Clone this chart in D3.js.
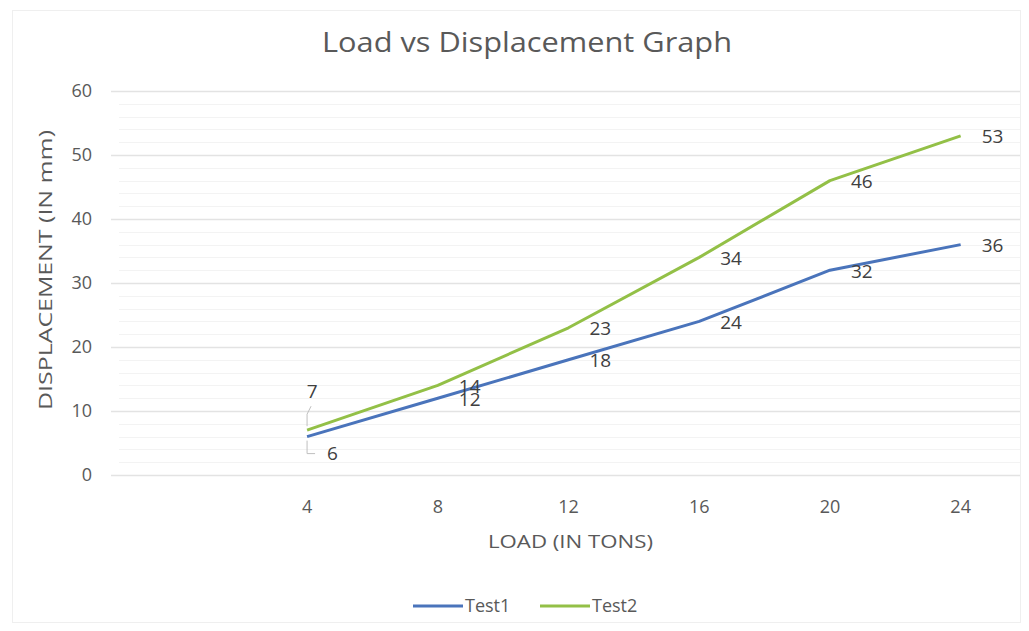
<!DOCTYPE html>
<html>
<head>
<meta charset="utf-8">
<script src="https://cdn.jsdelivr.net/npm/d3@7"></script>
<style>
  body { margin: 0; background: #fff; }
  svg { display: block; font-family: "Open Sans", "Noto Sans", sans-serif; }
</style>
</head>
<body>
<div id="chart"></div>
<script>
// chart data
var loads = ["", "4", "8", "12", "16", "20", "24"];   // first category is empty in the original
var test1 = [null, 6, 12, 18, 24, 32, 36];
var test2 = [null, 7, 14, 23, 34, 46, 53];
var yTicks = [0, 10, 20, 30, 40, 50, 60];

var seriesNames = ["Test1", "Test2"];
var seriesColors = ["#4a74bb", "#93c047"];

var width = 1029, height = 631;
var plot = {left: 111, right: 1026, top: 91, bottom: 475};

var svg = d3.select("#chart").append("svg")
  .attr("width", width)
  .attr("height", height);

// faint outer border of the chart area
svg.append("rect")
  .attr("x", 12.5).attr("y", 10.5)
  .attr("width", 1008).attr("height", 612)
  .attr("fill", "none")
  .attr("stroke", "#efefef");

var x = d3.scaleBand()
  .domain(loads)
  .range([plot.left, plot.right]);

var y = d3.scaleLinear()
  .domain([0, 60])
  .range([plot.bottom, plot.top]);

// minor gridlines every 2
svg.append("g")
  .selectAll("line")
  .data(d3.range(0, 61, 2).filter(function(v) { return v % 10 !== 0; }))
  .enter().append("line")
  .attr("x1", plot.left + 8).attr("x2", plot.right - 6)
  .attr("y1", function(d) { return Math.round(y(d)) + 0.5; })
  .attr("y2", function(d) { return Math.round(y(d)) + 0.5; })
  .attr("stroke", "#f3f3f3");

// major gridlines every 10
svg.append("g")
  .selectAll("line")
  .data(yTicks)
  .enter().append("line")
  .attr("x1", plot.left).attr("x2", plot.right - 6)
  .attr("y1", function(d) { return Math.round(y(d)) + 0.5; })
  .attr("y2", function(d) { return Math.round(y(d)) + 0.5; })
  .attr("stroke", "#e3e3e3")
  .attr("stroke-width", 1.5);

// y tick labels
svg.append("g")
  .selectAll("text")
  .data(yTicks)
  .enter().append("text")
  .attr("x", 92)
  .attr("y", function(d) { return y(d); })
  .attr("dy", "0.35em")
  .attr("text-anchor", "end")
  .attr("font-size", 18)
  .attr("fill", "#595959")
  .text(function(d) { return d; });

// x tick labels
svg.append("g")
  .selectAll("text")
  .data(loads)
  .enter().append("text")
  .attr("x", function(d) { return x(d) + x.bandwidth() / 2; })
  .attr("y", 507)
  .attr("dy", "0.35em")
  .attr("text-anchor", "middle")
  .attr("font-size", 18)
  .attr("fill", "#595959")
  .text(function(d) { return d; });

// titles
svg.append("text")
  .attr("x", 527).attr("y", 42)
  .attr("dy", "0.35em")
  .attr("text-anchor", "middle")
  .attr("font-size", 28)
  .attr("textLength", 410)
  .attr("lengthAdjust", "spacingAndGlyphs")
  .attr("fill", "#595959")
  .text("Load vs Displacement Graph");

svg.append("text")
  .attr("x", (plot.left + plot.right) / 2 + 2).attr("y", 541)
  .attr("dy", "0.35em")
  .attr("text-anchor", "middle")
  .attr("font-size", 19)
  .attr("textLength", 165)
  .attr("lengthAdjust", "spacingAndGlyphs")
  .attr("fill", "#595959")
  .text("LOAD (IN TONS)");

svg.append("text")
  .attr("transform", "translate(45," + 270 + ") rotate(-90)")
  .attr("dy", "0.35em")
  .attr("text-anchor", "middle")
  .attr("font-size", 19)
  .attr("textLength", 280)
  .attr("lengthAdjust", "spacingAndGlyphs")
  .attr("fill", "#595959")
  .text("DISPLACEMENT (IN mm)");

// lines
var line = d3.line()
  .defined(function(d) { return d.v !== null; })
  .x(function(d) { return x(d.k) + x.bandwidth() / 2; })
  .y(function(d) { return y(d.v); });

var series = [test1, test2].map(function(vals, s) {
  return {
    name: seriesNames[s],
    color: seriesColors[s],
    points: vals.map(function(v, i) { return {k: loads[i], v: v}; })
  };
});

svg.append("g")
  .selectAll("path")
  .data(series)
  .enter().append("path")
  .attr("d", function(d) { return line(d.points); })
  .attr("fill", "none")
  .attr("stroke", function(d) { return d.color; })
  .attr("stroke-width", 3)
  .attr("stroke-linejoin", "round");

// data labels, placed to the right of each point
series.forEach(function(s, si) {
  var pts = s.points.filter(function(p) { return p.v !== null; });
  svg.append("g")
    .selectAll("text")
    .data(pts)
    .enter().append("text")
    .attr("x", function(p, i) {
      var cx = x(p.k) + x.bandwidth() / 2;
      if (i === 0) return si === 0 ? cx + 20 : cx + 5;
      return cx + 21;
    })
    .attr("y", function(p, i) {
      var cy = y(p.v);
      if (i === 0) return si === 0 ? cy + 17 : cy - 39;
      return cy + 1;
    })
    .attr("dy", "0.35em")
    .attr("text-anchor", function(p, i) { return (i === 0 && si === 1) ? "middle" : "start"; })
    .attr("font-size", 19)
    .attr("fill", "#404040")
    .text(function(p) { return p.v; });
});

// leader lines for the first two labels
var firstX = x(loads[1]) + x.bandwidth() / 2;
svg.append("path")
  .attr("d", "M" + (firstX) + "," + (y(test1[1]) + 4) + " V" + (y(test1[1]) + 17) + " H" + (firstX + 8))
  .attr("fill", "none").attr("stroke", "#bfbfbf");
svg.append("path")
  .attr("d", "M" + (firstX + 4) + "," + (y(test2[1]) - 24) + " L" + firstX + "," + (y(test2[1]) - 16) + " V" + (y(test2[1]) - 4))
  .attr("fill", "none").attr("stroke", "#bfbfbf");

// legend
var legend = svg.append("g").attr("transform", "translate(413,606)");
var entry = legend.selectAll("g")
  .data(series)
  .enter().append("g")
  .attr("transform", function(d, i) { return "translate(" + i * 127 + ",0)"; });

entry.append("line")
  .attr("x1", 0).attr("x2", 50)
  .attr("stroke", function(d) { return d.color; })
  .attr("stroke-width", 3);

entry.append("text")
  .attr("x", 52)
  .attr("dy", "0.35em")
  .attr("font-size", 18)
  .attr("fill", "#595959")
  .text(function(d) { return d.name; });
</script>
</body>
</html>
